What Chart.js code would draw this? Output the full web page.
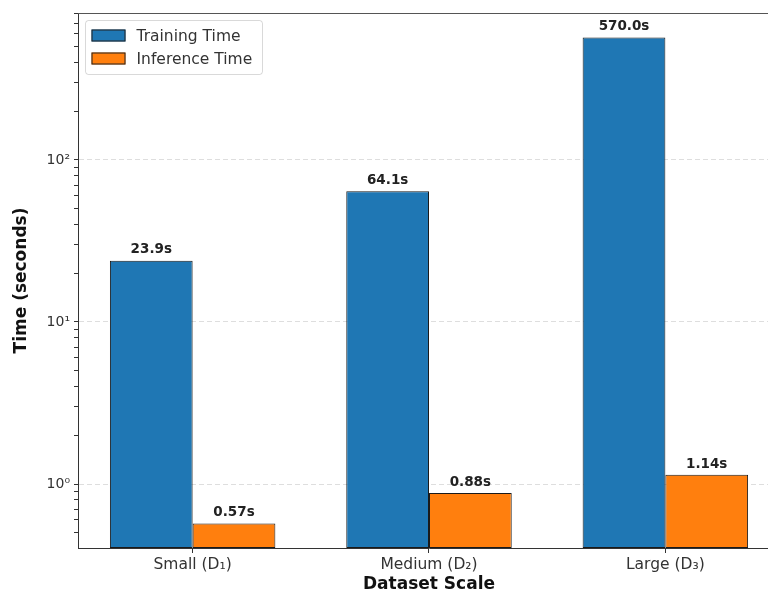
<!DOCTYPE html>
<html>
<head>
<meta charset="utf-8">
<script src="https://cdn.jsdelivr.net/npm/chart.js@4/dist/chart.umd.min.js"></script>
<style>
  html, body { margin: 0; padding: 0; background: #fff; overflow: hidden; }
  #wrap { width: 768px; height: 595px; overflow: hidden; }
</style>
</head>
<body>
<div id="wrap"><canvas id="chart" width="780" height="595"></canvas></div>
<script>
var categories = ["Small (D\u2081)", "Medium (D\u2082)", "Large (D\u2083)"];
var training_time = [23.9, 64.1, 570.0];
var inference_time = [0.57, 0.88, 1.14];
var training_labels = ["23.9s", "64.1s", "570.0s"];
var inference_labels = ["0.57s", "0.88s", "1.14s"];
var series_names = ["Training Time", "Inference Time"];
var y_min = 0.403;
var y_max = 807;
var major_ticks = [1, 10, 100];
var major_labels = ["10\u2070", "10\u00b9", "10\u00b2"];

var FONT = "'DejaVu Sans', sans-serif";

// minor + major tick values for the log axis
var y_tick_values = [];
for (let e = -1; e <= 2; e++) {
    for (let m = 1; m <= 9; m++) {
        const v = m * Math.pow(10, e);
        if (v >= y_min && v <= y_max) y_tick_values.push(v);
    }
}

function isMajor(v) {
    return major_ticks.some(function(t) { return Math.abs(t - v) < 1e-9; });
}

var valueLabels = {
    id: "valueLabels",
    afterDatasetsDraw(chart) {
        const ctx = chart.ctx;
        const texts = [training_labels, inference_labels];
        ctx.save();
        ctx.font = "bold 13.5px " + FONT;
        ctx.fillStyle = "#222";
        ctx.textAlign = "center";
        ctx.textBaseline = "bottom";
        chart.data.datasets.forEach(function(ds, i) {
            chart.getDatasetMeta(i).data.forEach(function(bar, j) {
                ctx.fillText(texts[i][j], bar.x, bar.y - 4);
            });
        });
        ctx.restore();
    }
};

var frameAndLegend = {
    id: "frameAndLegend",
    afterDraw(chart) {
        const ctx = chart.ctx;
        const a = chart.chartArea;
        ctx.save();
        // top and right spines
        ctx.strokeStyle = "#555";
        ctx.lineWidth = 1;
        ctx.beginPath();
        ctx.moveTo(a.left, a.top + 0.5);
        ctx.lineTo(a.right, a.top + 0.5);
        ctx.lineTo(a.right, a.bottom);
        ctx.stroke();

        // legend box
        const bx = a.left + 7.5, by = a.top + 7.5, bw = 177, bh = 54;
        ctx.fillStyle = "rgba(255,255,255,0.8)";
        ctx.strokeStyle = "rgba(0,0,0,0.15)";
        ctx.beginPath();
        ctx.roundRect(bx, by, bw, bh, 3);
        ctx.fill();
        ctx.stroke();
        ctx.font = "15.5px " + FONT;
        ctx.textBaseline = "middle";
        chart.data.datasets.forEach(function(ds, i) {
            const cy = by + 15 + i * 23;
            ctx.fillStyle = ds.backgroundColor;
            ctx.strokeStyle = "#222";
            ctx.fillRect(bx + 6, cy - 6, 34, 12);
            ctx.strokeRect(bx + 6.5, cy - 5.5, 33, 11);
            ctx.fillStyle = "#333";
            ctx.fillText(series_names[i], bx + 51, cy + 1);
        });
        ctx.restore();
    }
};

const ctx = document.getElementById("chart").getContext("2d");
const myChart = new Chart(ctx, {
    type: "bar",
    data: {
        labels: categories,
        datasets: [{
            label: series_names[0],
            data: training_time,
            backgroundColor: "#1f77b4",
            borderColor: "#1a1a1a",
            borderWidth: 1,
            borderSkipped: false,
            categoryPercentage: 0.7,
            barPercentage: 1.0,
        }, {
            label: series_names[1],
            data: inference_time,
            backgroundColor: "#ff7f0e",
            borderColor: "#1a1a1a",
            borderWidth: 1,
            borderSkipped: false,
            categoryPercentage: 0.7,
            barPercentage: 1.0,
        }],
    },
    options: {
        responsive: false,
        animation: false,
        devicePixelRatio: 1,
        layout: { padding: { top: 13, right: 0, bottom: 0, left: 0 } },
        plugins: {
            legend: { display: false },
            tooltip: { enabled: false },
        },
        scales: {
            x: {
                grid: { display: true, drawOnChartArea: false, offset: false, tickLength: 5, tickColor: "#333" },
                border: { color: "#333", width: 1 },
                ticks: { color: "#333", padding: 3, font: { family: FONT, size: 15.5 } },
                title: {
                    display: true,
                    text: "Dataset Scale",
                    color: "#111",
                    font: { family: FONT, size: 17, weight: "bold" },
                    padding: { top: 0, bottom: 0 },
                },
                afterFit(scale) { scale.height = 47; },
                afterUpdate(scale) {
                    // matplotlib-like x limits: bar extents plus 5% margin
                    scale._startValue = -0.485;
                    scale._valueRange = 2.97;
                },
            },
            y: {
                type: "logarithmic",
                min: y_min,
                max: y_max,
                afterBuildTicks(scale) {
                    scale.ticks = y_tick_values.map(function(v) { return { value: v, major: isMajor(v) }; });
                },
                ticks: {
                    autoSkip: false,
                    color: "#333",
                    padding: 4,
                    font: { family: FONT, size: 14 },
                    callback: function(value) {
                        const k = major_ticks.findIndex(function(t) { return Math.abs(t - value) < 1e-9; });
                        return k >= 0 ? major_labels[k] : "";
                    },
                },
                grid: {
                    color: function(c) { return c.tick && isMajor(c.tick.value) ? "rgba(0,0,0,0.13)" : "rgba(0,0,0,0)"; },
                    tickColor: "#333",
                    tickLength: 4,
                    lineWidth: 1,
                },
                border: { color: "#333", width: 1, dash: [5, 3] },
                title: {
                    display: true,
                    text: "Time (seconds)",
                    color: "#111",
                    font: { family: FONT, size: 17, weight: "bold" },
                    padding: { top: 11, bottom: 0 },
                },
                afterFit(scale) { scale.width = 78; },
            },
        },
    },
    plugins: [valueLabels, frameAndLegend],
});
</script>
</body>
</html>
